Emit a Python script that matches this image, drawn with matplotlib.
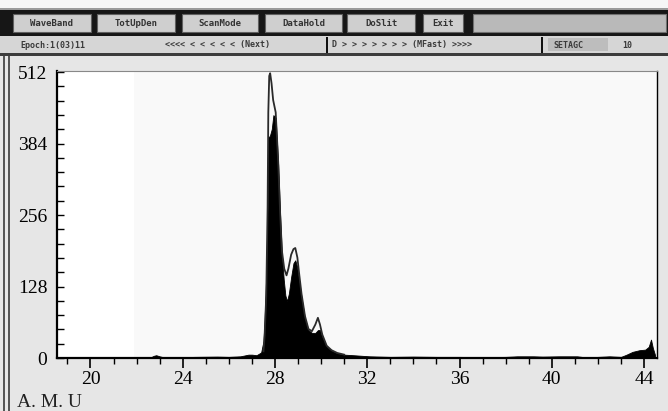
"""Mass spectrum screen capture: peak-hold trace over a filled scan."""

import matplotlib

matplotlib.use("Agg")
import matplotlib.pyplot as plt
from matplotlib.patches import Rectangle
from matplotlib.ticker import MultipleLocator

# --------------------------------------------------------------------- DATA

# filled scan (black area), amu -> counts
FILL_AMU = [21.9, 22.6, 22.75, 22.85, 23.0, 23.2, 24.0, 24.5, 25.5, 26.0, 26.5,
            26.85, 27.0, 27.2, 27.4, 27.5, 27.55, 27.62, 27.68, 27.71, 27.78,
            27.86, 27.93, 28.03, 28.14, 28.22, 28.3, 28.38, 28.45, 28.52, 28.6,
            28.7, 28.8, 28.88, 28.95, 29.05, 29.15, 29.3, 29.45, 29.6, 29.75,
            29.86, 29.95, 30.05, 30.24, 30.45, 30.67, 31.0, 31.4, 32.1, 33.0,
            34.0, 35.0, 36.0, 37.0, 38.0, 38.5, 39.2, 39.6, 40.3, 41.1, 41.5,
            42.0, 42.5, 43.0, 43.24, 43.5, 43.8, 44.05, 44.2, 44.3, 44.38,
            44.47]
FILL_CNT = [0, 1, 4, 5, 3, 1, 1.5, 2, 2.5, 2, 3,
            6, 6, 5, 10, 30, 70, 150, 270, 395, 398,
            410, 435, 430, 345, 258, 185, 140, 112, 102, 115,
            145, 170, 175, 165, 138, 108, 70, 50, 45, 45,
            50, 50, 38, 20, 14, 9, 6, 5, 3, 2,
            2.5, 2, 2, 1.5, 2, 3, 3, 2.5, 3, 3, 1,
            2, 3, 2, 6, 11, 14, 15, 20, 33, 18,
            6]

# peak-hold envelope (outline), amu -> counts
HOLD_AMU = [27.5, 27.55, 27.62, 27.68, 27.71, 27.75, 27.79, 27.85, 27.92,
            28.03, 28.14, 28.22, 28.3, 28.4, 28.5, 28.58, 28.7, 28.8, 28.88,
            28.97, 29.05, 29.15, 29.3, 29.45, 29.6, 29.75, 29.86, 29.95, 30.05,
            30.24, 30.45, 30.7, 31.0]
HOLD_CNT = [12, 40, 110, 270, 440, 505, 510, 492, 462,
            440, 350, 262, 192, 160, 148, 160, 185, 195, 197,
            180, 150, 115, 75, 52, 48, 60, 72, 60, 42,
            22, 14, 9, 6]

X_TICKS = [20, 24, 28, 32, 36, 40, 44]
Y_TICKS = [0, 128, 256, 384, 512]

BUTTONS = ["WaveBand", "TotUpDen", "ScanMode", "DataHold", "DoSlit", "Exit"]
STATUS = ["Epoch:1(03)11", "<<<< < < < < < (Next)", "D > > > > > > > (MFast) >>>>",
          "SETAGC", "10"]

# ------------------------------------------------------------------------

W, H = 668, 411


def fx(x):
    return x / W


def fy(y):
    return 1 - y / H


def box(fig, x0, y0, x1, y1, face, edge="none", lw=0.0):
    fig.patches.append(Rectangle((fx(x0), fy(y1)), (x1 - x0) / W, (y1 - y0) / H,
                                 transform=fig.transFigure, facecolor=face,
                                 edgecolor=edge, lw=lw, zorder=0))


fig = plt.figure(figsize=(W / 100, H / 100), dpi=100, facecolor="#e6e6e6")

# toolbar
box(fig, 0, 0, W, 8, "#f6f6f6")
box(fig, 0, 8, W, 10, "#9a9a9a")
box(fig, 0, 10, W, 36, "#161616")
button_x = [(13, 91), (97, 175), (182, 258), (265, 342), (347, 415), (423, 463)]
for (x0, x1), name in zip(button_x, BUTTONS):
    box(fig, x0, 14, x1, 32, "#cfcfcf", "#606060", 0.8)
    fig.text(fx((x0 + x1) / 2), fy(23.5), name, ha="center", va="center",
             family="DejaVu Sans Mono", fontsize=6.5, weight="bold", color="#333333")
box(fig, 473, 14, 666, 32, "#b9b9b9", "#707070", 0.8)

# status row
box(fig, 0, 36, W, 53, "#d6d6d6")
box(fig, 548, 38, 608, 51, "#bdbdbd")
status_x = [20, 165, 332, 553, 622]
for x, txt in zip(status_x, STATUS):
    fig.text(fx(x), fy(45), txt, ha="left", va="center", family="DejaVu Sans Mono",
             fontsize=6, weight="bold", color="#3a3a3a")
for x in (327, 542):
    box(fig, x - 1, 37, x + 1, 53, "#111111")
box(fig, 0, 53, W, 56, "#3c3c3c")

# panel border
box(fig, 3, 56, 4.5, H, "#555555")
box(fig, 8, 56, 9.5, H, "#555555")

# plot area
ax = fig.add_axes([fx(57), fy(358), 600 / W, 287 / H])
ax.set_facecolor("white")
ax.axvspan(21.9, 44.56, color="#f9f9f9", lw=0, zorder=0)
ax.fill_between(FILL_AMU, 0, FILL_CNT, color="black", lw=0.6, edgecolor="black",
                zorder=2)
ax.plot(HOLD_AMU, HOLD_CNT, color="#2a2a2a", lw=1.3, zorder=3)

ax.set_xlim(18.55, 44.56)
ax.set_ylim(0, 514)
ax.set_xticks(X_TICKS)
ax.set_yticks(Y_TICKS)
ax.xaxis.set_minor_locator(MultipleLocator(1))
ax.yaxis.set_minor_locator(MultipleLocator(25.6))
ax.tick_params(axis="x", which="major", direction="out", length=7, width=1.2,
               pad=2, labelsize=14)
ax.tick_params(axis="x", which="minor", direction="out", length=4, width=1.0)
ax.tick_params(axis="y", which="both", direction="in", length=5, width=1.0,
               pad=7, labelsize=14)
for label in ax.get_xticklabels() + ax.get_yticklabels():
    label.set_family("Liberation Serif")
ax.spines["left"].set_linewidth(1.6)
ax.spines["bottom"].set_linewidth(1.6)
ax.spines["right"].set_linewidth(1.0)
ax.spines["top"].set_color("#888888")

fig.text(fx(17), fy(402), "A. M. U", ha="left", va="center",
         family="Liberation Serif", fontsize=14, color="#222222")

fig.savefig("out.png", dpi=100, facecolor=fig.get_facecolor())
